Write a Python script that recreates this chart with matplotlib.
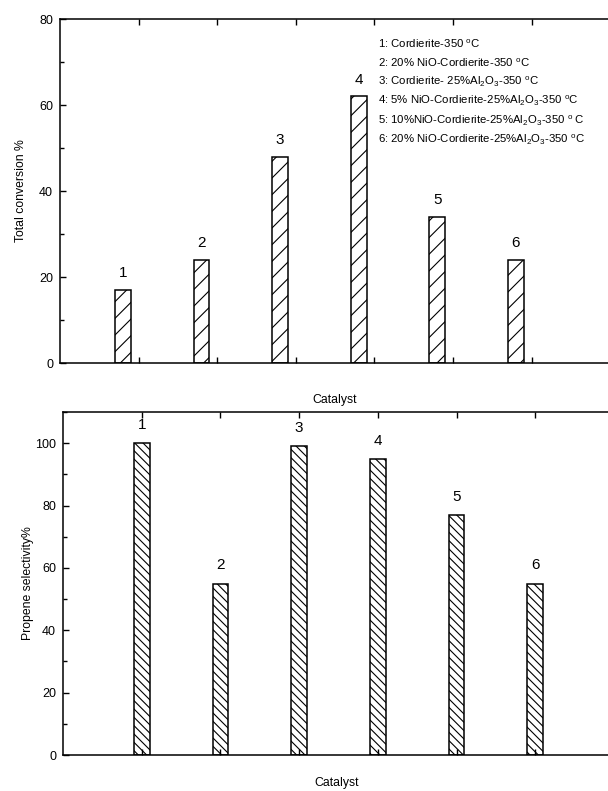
import numpy as np
import matplotlib

matplotlib.use("Agg")
import matplotlib.pyplot as plt
from matplotlib.ticker import MultipleLocator

plt.rcParams["font.family"] = ["Liberation Sans", "DejaVu Sans"]
plt.rcParams["mathtext.fontset"] = "custom"
plt.rcParams["mathtext.rm"] = "Liberation Sans"
plt.rcParams["mathtext.it"] = "Liberation Sans:italic"
plt.rcParams["mathtext.bf"] = "Liberation Sans:bold"
plt.rcParams["hatch.linewidth"] = 0.8

# catalyst index and values
catalysts = [1, 2, 3, 4, 5, 6]
conversion = [17, 24, 48, 62, 34, 24]
selectivity = [100, 55, 99, 95, 77, 55]
legend_lines = [
    r"1: Cordierite-350 $^{\rm o}$C",
    r"2: 20% NiO-Cordierite-350 $^{\rm o}$C",
    r"3: Cordierite- 25%Al$_{\rm 2}$O$_{\rm 3}$-350 $^{\rm o}$C",
    r"4: 5% NiO-Cordierite-25%Al$_{\rm 2}$O$_{\rm 3}$-350 $^{\rm o}$C",
    r"5: 10%NiO-Cordierite-25%Al$_{\rm 2}$O$_{\rm 3}$-350 $^{\rm o}$ C",
    r"6: 20% NiO-Cordierite-25%Al$_{\rm 2}$O$_{\rm 3}$-350 $^{\rm o}$C",
]

W, H = 608, 791
fig = plt.figure(figsize=(W / 100, H / 100), dpi=100)


def px_axes(left, top, bottom, right=W + 2):
    return fig.add_axes([left / W, 1 - bottom / H, (right - left) / W, (bottom - top) / H])


def style(ax):
    ax.spines["right"].set_visible(False)
    for s in ax.spines.values():
        s.set_linewidth(1.1)
    ax.tick_params(axis="both", which="both", direction="in", top=True, right=False,
                   labelsize=9, pad=5, width=1.0)
    ax.tick_params(axis="both", which="major", length=4)
    ax.tick_params(axis="both", which="minor", length=3)
    ax.tick_params(axis="x", labelbottom=False)


x = np.array(catalysts, dtype=float)

# top: total conversion
ax1 = px_axes(60, 19, 363)
ax1.bar(x, conversion, width=0.2, color="white", edgecolor="black", linewidth=1.1, hatch="//")
ax1.set_xlim(0.2, 0.2 + (W + 2 - 60) / 78.6)
ax1.set_ylim(0, 80)
ax1.set_xticks(x + 0.2)
ax1.yaxis.set_major_locator(MultipleLocator(20))
ax1.yaxis.set_minor_locator(MultipleLocator(10))
style(ax1)
for xi, v in zip(x, conversion):
    ax1.annotate(str(int(xi)), (xi, v), xytext=(0, 7), textcoords="offset points",
                 ha="center", va="bottom", fontsize=11)
for i, line in enumerate(legend_lines):
    ax1.text(0.578, 0.927 - i * 0.0555, line, transform=ax1.transAxes,
             fontsize=8.2, va="center", ha="left")
ax1.set_ylabel("Total conversion %", fontsize=8.8, labelpad=9)
ax1.set_xlabel("Catalyst", fontsize=8.8, labelpad=22)

# bottom: propene selectivity
ax2 = px_axes(63, 412, 755)
ax2.bar(x, selectivity, width=0.2, color="white", edgecolor="black", linewidth=1.1,
        hatch="\\\\\\\\")
ax2.set_xlim(0, (W + 2 - 63) / 78.7)
ax2.set_ylim(0, 110)
ax2.set_xticks(x)
ax2.yaxis.set_major_locator(MultipleLocator(20))
ax2.yaxis.set_minor_locator(MultipleLocator(10))
style(ax2)
for xi, v in zip(x, selectivity):
    ax2.annotate(str(int(xi)), (xi, v), xytext=(0, 8), textcoords="offset points",
                 ha="center", va="bottom", fontsize=11)
ax2.set_ylabel("Propene selectivity%", fontsize=8.8, labelpad=1)
ax2.set_xlabel("Catalyst", fontsize=8.8, labelpad=16)

fig.savefig("out.png", dpi=100)
